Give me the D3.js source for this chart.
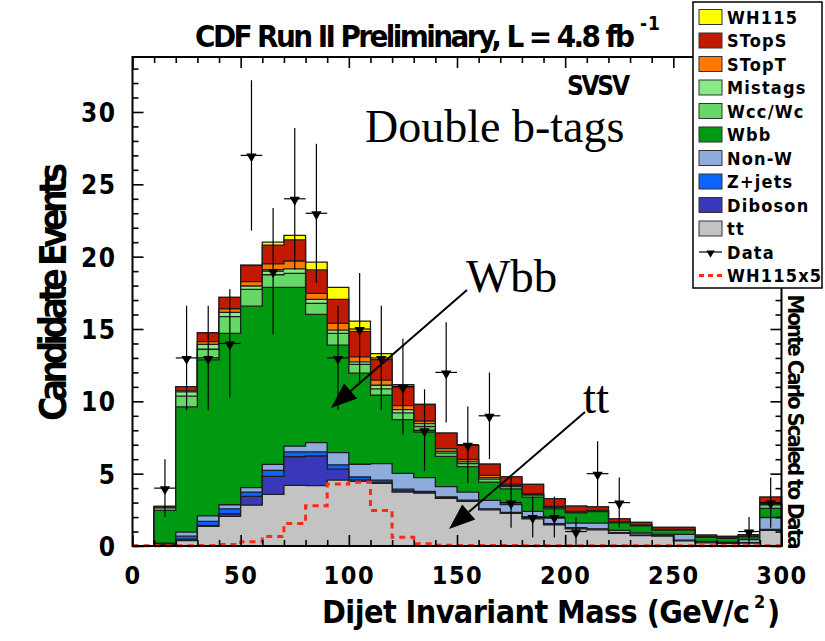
<!DOCTYPE html>
<html>
<head>
<meta charset="utf-8">
<script src="https://cdn.jsdelivr.net/npm/d3@7"></script>
<style>
  body { margin: 0; background: #fff; }
  svg { display: block; }
  text { font-family: "Liberation Sans Narrow", "DejaVu Sans Condensed", "Liberation Sans", Arial, sans-serif; font-weight: bold; fill: #000; }
  .serif { font-family: "Liberation Serif", "Times New Roman", serif; font-weight: normal; }
</style>
</head>
<body>
<svg id="chart" width="825" height="641"></svg>
<script>
// Dijet invariant mass bins (GeV/c^2), 10 GeV wide
const binLow = [0, 10, 20, 30, 40, 50, 60, 70, 80, 90, 100, 110, 120, 130, 140,
                150, 160, 170, 180, 190, 200, 210, 220, 230, 240, 250, 260, 270, 280, 290];
const binWidth = 10;

// Background / signal expectations per bin (events), stacked bottom to top
const ttbar   = [0, 0.12, 0.38, 1.35, 2.05, 2.82, 3.57, 4.19, 4.17, 4.56, 4.47, 4.33, 3.73, 3.65, 3.30,
                 3.08, 2.50, 2.25, 1.88, 1.47, 1.19, 1.12, 0.88, 0.72, 0.68, 0.36, 0.22, 0.18, 0.20, 1.08];
const diboson = [0, 0.02, 0.10, 0.07, 0.18, 0.61, 1.24, 1.98, 2.05, 0.75, 0.10, 0.09, 0.08, 0.07, 0.05,
                 0.04, 0.03, 0.03, 0.05, 0.03, 0.03, 0.03, 0.02, 0.01, 0.01, 0.01, 0.01, 0.01, 0.01, 0.02];
const zjets   = [0, 0.02, 0.20, 0.28, 0.34, 0.30, 0.42, 0.33, 0.28, 0.30, 0.20, 0.13, 0.12, 0.05, 0.05,
                 0.05, 0.04, 0.04, 0.07, 0.04, 0.04, 0.04, 0.03, 0.02, 0.01, 0.03, 0.01, 0.01, 0.02, 0.05];
const nonW    = [0, 0.04, 0.28, 0.38, 0.28, 0.30, 0.41, 0.40, 0.65, 0.84, 0.88, 1.14, 1.09, 0.95, 0.70,
                 0.56, 0.58, 0.55, 0.39, 0.39, 0.32, 0.39, 0.15, 0.15, 0.10, 0.40, 0.07, 0.06, 0.22, 0.82];
const wbb     = [0, 2.26, 8.65, 10.79, 11.84, 12.55, 12.24, 10.98, 8.86, 7.43, 6.30, 4.73, 3.72, 3.16, 2.10,
                 1.75, 1.27, 1.08, 0.99, 0.64, 0.72, 0.80, 0.52, 0.50, 0.30, 0.30, 0.28, 0.27, 0.18, 0.63];
const wccWc   = [0, 0.17, 0.75, 0.73, 1.16, 1.16, 0.87, 0.97, 0.76, 0.81, 0.60, 0.44, 0.46, 0.38, 0.22,
                 0.22, 0.20, 0.15, 0.13, 0.08, 0.04, 0.03, 0.03, 0.02, 0, 0, 0.02, 0.02, 0.03, 0.25];
const mistags = [0, 0.06, 0.30, 0.33, 0.30, 0.23, 0.35, 0.30, 0.28, 0.23, 0.18, 0.25, 0.22, 0.20, 0.12,
                 0.12, 0.10, 0.10, 0.05, 0.04, 0.02, 0.02, 0.02, 0, 0, 0, 0, 0, 0, 0.10];
const stopT   = [0, 0.01, 0.06, 0.19, 0.25, 0.30, 0.40, 0.55, 0.41, 0.47, 0.34, 0.35, 0.28, 0.18, 0.19,
                 0.16, 0.16, 0.08, 0.05, 0.04, 0.03, 0.03, 0.02, 0.01, 0, 0, 0, 0, 0, 0.02];
const stopS   = [0, 0.03, 0.30, 0.62, 0.79, 1.12, 1.30, 1.46, 1.62, 1.66, 1.76, 1.42, 1.35, 1.14, 1.07,
                 0.98, 0.78, 0.50, 0.65, 0.54, 0.36, 0.24, 0.21, 0.20, 0.18, 0.18, 0.14, 0.11, 0.12, 0.41];
const wh115   = [0, 0, 0, 0, 0, 0.03, 0.20, 0.31, 0.54, 0.83, 0.72, 0.42, 0.10, 0, 0,
                 0, 0, 0, 0, 0, 0, 0, 0, 0, 0, 0, 0, 0, 0, 0];

// WH (115 GeV) signal scaled by 5, drawn as a dashed outline
const wh115x5 = [0.02, 0.02, 0.02, 0.03, 0.10, 0.30, 0.66, 1.56, 2.78, 4.28, 4.40, 2.46, 0.61, 0.15, 0.05,
                 0.03, 0.03, 0.03, 0.02, 0.02, 0.02, 0.02, 0.02, 0.02, 0.02, 0.02, 0.02, 0.02, 0.02, 0.02];

// Observed events per bin
const dataCounts = [0, 4, 13, 13, 14, 27, 19, 24, 23, 13, 15, 13, 11, 8, 12,
                    7, 9, 3, 2, 2, 1, 5, 3, 0, 0, 0, 0, 0, 1, 3];

// Axis ticks
const xMajorTicks = [0, 50, 100, 150, 200, 250, 300];
const xMinorTicks = [10, 20, 30, 40, 60, 70, 80, 90, 110, 120, 130, 140, 160, 170, 180, 190,
                     210, 220, 230, 240, 260, 270, 280, 290];
const yMajorTicks = [0, 5, 10, 15, 20, 25, 30];
const yMinorTicks = [1, 2, 3, 4, 6, 7, 8, 9, 11, 12, 13, 14, 16, 17, 18, 19, 21, 22, 23, 24, 26, 27, 28, 29, 31, 32, 33];

// Legend (top to bottom)
const legendLabels = ["WH115", "STopS", "STopT", "Mistags", "Wcc/Wc", "Wbb", "Non-W", "Z+jets", "Diboson", "tt", "Data", "WH115x5"];

// Stack components, bottom to top
const components = [
  { name: "tt",      values: ttbar,   color: "#c3c3c3" },
  { name: "Diboson", values: diboson, color: "#3838b8" },
  { name: "Z+jets",  values: zjets,   color: "#0a64ff" },
  { name: "Non-W",   values: nonW,    color: "#8eacdc" },
  { name: "Wbb",     values: wbb,     color: "#009a12" },
  { name: "Wcc/Wc",  values: wccWc,   color: "#66d866" },
  { name: "Mistags", values: mistags, color: "#8aea8a" },
  { name: "STopT",   values: stopT,   color: "#ff7800" },
  { name: "STopS",   values: stopS,   color: "#c21a00" },
  { name: "WH115",   values: wh115,   color: "#ffff00" }
];
const colorByName = Object.fromEntries(components.map(c => [c.name, c.color]));

const svg = d3.select("#chart");
const x = d3.scaleLinear().domain([0, 300]).range([132.5, 781.5]);
const y = d3.scaleLinear().domain([0, 33.8]).range([546, 57]);

// cumulative sums for the stack
let running = binLow.map(() => 0);
const layers = components.map(c => {
  running = running.map((r, i) => r + c.values[i]);
  return { ...c, cum: running.slice() };
});

const stepPoints = vals => {
  const pts = [];
  vals.forEach((v, i) => { pts.push([binLow[i], v]); pts.push([binLow[i] + binWidth, v]); });
  return pts;
};
const area = d3.area().x(d => x(d[0])).y0(y(0)).y1(d => y(d[1]));
const line = d3.line().x(d => x(d[0])).y(d => y(d[1]));

// stacked histograms: draw the tallest cumulative first
const gStack = svg.append("g");
layers.slice().reverse().forEach(l => {
  gStack.append("path")
    .attr("d", area(stepPoints(l.cum)))
    .attr("fill", l.color)
    .attr("stroke", "#1e1e1e")
    .attr("stroke-width", 1.3)
    .attr("stroke-linejoin", "miter");
});

// WH115 x5 dashed outline
svg.append("path")
  .attr("d", line(stepPoints(wh115x5)))
  .attr("fill", "none")
  .attr("stroke", "#ff2a10")
  .attr("stroke-width", 3)
  .attr("stroke-dasharray", "6,5");

// data points with sqrt(N) error bars
const gData = svg.append("g").attr("stroke", "#000").attr("stroke-width", 1.2);
const tri = d3.symbol().type(d3.symbolTriangle).size(46);
dataCounts.forEach((n, i) => {
  if (n <= 0) return;
  const cx = x(binLow[i] + binWidth / 2);
  const err = Math.sqrt(n);
  gData.append("line").attr("x1", cx).attr("x2", cx).attr("y1", y(n + err)).attr("y2", y(Math.max(0, n - err)));
  gData.append("line").attr("x1", x(binLow[i])).attr("x2", x(binLow[i] + binWidth)).attr("y1", y(n)).attr("y2", y(n));
  gData.append("path").attr("d", tri()).attr("transform", `translate(${cx},${y(n) + 1}) rotate(180)`)
    .attr("fill", "#000").attr("stroke", "none");
});

// frame
svg.append("rect")
  .attr("x", x(0)).attr("y", y(33.8))
  .attr("width", x(300) - x(0)).attr("height", y(0) - y(33.8))
  .attr("fill", "none").attr("stroke", "#000").attr("stroke-width", 2);

// axes with inward ticks on all four sides
function styleAxis(g) {
  g.select(".domain").remove();
  g.selectAll(".tick line").attr("stroke", "#000").attr("stroke-width", 1.6);
}
const fmt = d3.format("d");
const tickFont = "'Liberation Sans Narrow','DejaVu Sans Condensed',sans-serif";
svg.append("g").attr("transform", `translate(0,${y(0)})`)
  .call(d3.axisBottom(x).tickValues(xMajorTicks).tickSize(-11).tickPadding(20).tickFormat(fmt))
  .call(styleAxis)
  .call(g => g.selectAll("text").attr("font-size", 25).attr("letter-spacing", 1.5)
    .style("font-family", tickFont).style("font-weight", "bold"));
svg.append("g").attr("transform", `translate(0,${y(0)})`)
  .call(d3.axisBottom(x).tickValues(xMinorTicks).tickSize(-6).tickFormat(""))
  .call(styleAxis);
svg.append("g").attr("transform", `translate(0,${y(33.8)})`)
  .call(d3.axisTop(x).tickValues(xMajorTicks).tickSize(-11).tickFormat(""))
  .call(styleAxis);
svg.append("g").attr("transform", `translate(0,${y(33.8)})`)
  .call(d3.axisTop(x).tickValues(xMinorTicks).tickSize(-6).tickFormat(""))
  .call(styleAxis);
svg.append("g").attr("transform", `translate(${x(0)},0)`)
  .call(d3.axisLeft(y).tickValues(yMajorTicks).tickSize(-11).tickPadding(16).tickFormat(fmt))
  .call(styleAxis)
  .call(g => g.selectAll("text").attr("font-size", 26).attr("letter-spacing", 1.5).attr("dy", "0.36em")
    .style("font-family", tickFont).style("font-weight", "bold"));
svg.append("g").attr("transform", `translate(${x(0)},0)`)
  .call(d3.axisLeft(y).tickValues(yMinorTicks).tickSize(-6).tickFormat(""))
  .call(styleAxis);
svg.append("g").attr("transform", `translate(${x(300)},0)`)
  .call(d3.axisRight(y).tickValues(yMajorTicks).tickSize(-11).tickFormat(""))
  .call(styleAxis);
svg.append("g").attr("transform", `translate(${x(300)},0)`)
  .call(d3.axisRight(y).tickValues(yMinorTicks).tickSize(-6).tickFormat(""))
  .call(styleAxis);

// titles
svg.append("text").attr("x", 195).attr("y", 46.5).attr("font-size", 31)
  .attr("textLength", 440).attr("lengthAdjust", "spacing")
  .text("CDF Run II Preliminary, L = 4.8 fb");
svg.append("text").attr("x", 640).attr("y", 30).attr("font-size", 19)
  .attr("letter-spacing", 1).text("-1");

svg.append("text")
  .attr("transform", "translate(66,292) rotate(-90)")
  .attr("text-anchor", "middle").attr("font-size", 37)
  .attr("textLength", 258).attr("lengthAdjust", "spacing")
  .text("Candidate Events");

svg.append("text").attr("x", 322).attr("y", 623).attr("font-size", 32)
  .attr("textLength", 428).attr("lengthAdjust", "spacing")
  .text("Dijet Invariant Mass (GeV/c");
svg.append("text").attr("x", 754).attr("y", 608).attr("font-size", 18).text("2");
svg.append("text").attr("x", 767).attr("y", 623).attr("font-size", 32).text(")");

svg.append("text")
  .attr("transform", "translate(788,422) rotate(90)")
  .attr("text-anchor", "middle").attr("font-size", 22)
  .attr("textLength", 255).attr("lengthAdjust", "spacing")
  .text("Monte Carlo Scaled to Data");

// annotations
svg.append("text").attr("x", 567).attr("y", 95).attr("font-size", 26)
  .attr("textLength", 63).attr("lengthAdjust", "spacing").text("SVSV");
svg.append("text").attr("class", "serif").attr("x", 365).attr("y", 142).attr("font-size", 46).text("Double b-tags");
svg.append("text").attr("class", "serif").attr("x", 466).attr("y", 292).attr("font-size", 47).text("Wbb");
svg.append("text").attr("class", "serif").attr("x", 583).attr("y", 413).attr("font-size", 47).text("tt");

function arrow(x1, y1, x2, y2) {
  const ang = Math.atan2(y2 - y1, x2 - x1);
  const len = 26, half = 10;
  const bx = x2 - len * Math.cos(ang), by = y2 - len * Math.sin(ang);
  svg.append("line").attr("x1", x1).attr("y1", y1).attr("x2", bx).attr("y2", by)
    .attr("stroke", "#000").attr("stroke-width", 2);
  const p = [[x2, y2],
             [bx + half * Math.sin(ang), by - half * Math.cos(ang)],
             [bx - half * Math.sin(ang), by + half * Math.cos(ang)]];
  svg.append("path").attr("d", "M" + p.map(q => q.join(",")).join("L") + "Z").attr("fill", "#000");
}
arrow(467, 290, 331, 408);
arrow(585, 412, 449, 529);

// legend
const lg = svg.append("g");
lg.append("rect").attr("x", 693).attr("y", 2).attr("width", 129).attr("height", 286)
  .attr("fill", "#fff").attr("stroke", "#000").attr("stroke-width", 1.5);
legendLabels.forEach((label, i) => {
  const cy = 17 + i * 23.5;
  if (colorByName[label]) {
    lg.append("rect").attr("x", 699).attr("y", cy - 7.5).attr("width", 23).attr("height", 15)
      .attr("fill", colorByName[label]).attr("stroke", "#333").attr("stroke-width", 1);
  } else if (label === "Data") {
    lg.append("line").attr("x1", 699).attr("x2", 722).attr("y1", cy).attr("y2", cy)
      .attr("stroke", "#000").attr("stroke-width", 1.2);
    lg.append("path").attr("d", d3.symbol().type(d3.symbolTriangle).size(30)())
      .attr("transform", `translate(710.5,${cy + 1}) rotate(180)`).attr("fill", "#000");
  } else {
    lg.append("line").attr("x1", 699).attr("x2", 722).attr("y1", cy).attr("y2", cy)
      .attr("stroke", "#ff2a10").attr("stroke-width", 3).attr("stroke-dasharray", "5,4");
  }
  lg.append("text").attr("x", 727).attr("y", cy + 6.5).attr("font-size", 18)
    .attr("letter-spacing", 1.2).text(label);
});
</script>
</body>
</html>
